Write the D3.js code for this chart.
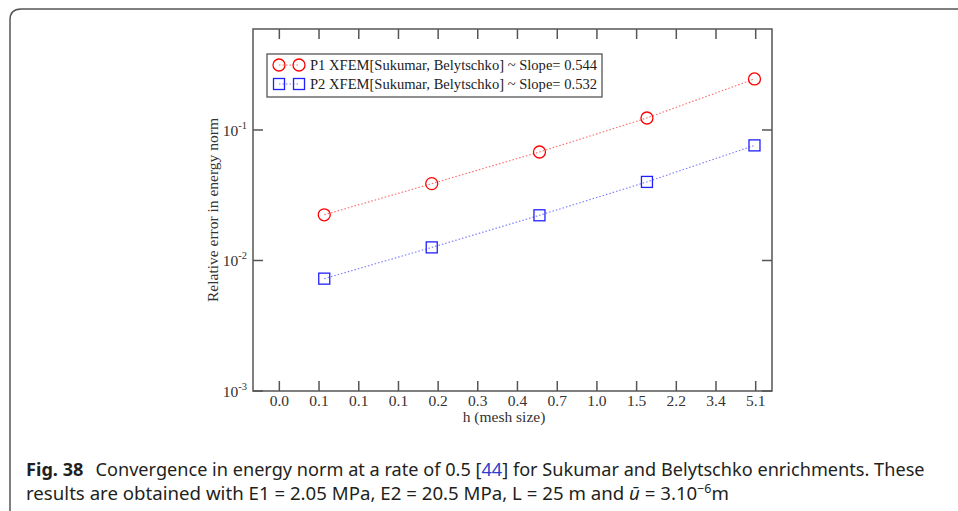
<!DOCTYPE html>
<html>
<head>
<meta charset="utf-8">
<script src="https://cdn.jsdelivr.net/npm/d3@7"></script>
<style>
  body { margin: 0; background: #fff; }
  svg { display: block; }
</style>
</head>
<body>
<div id="chart"></div>
<script>
var w = 958;
var h = 511;

// mesh size h and relative error values
var meshSize = [0.0617, 0.185, 0.556, 1.667, 5.0];
var errP1 = [0.0224, 0.0388, 0.0678, 0.1236, 0.246];
var errP2 = [0.00726, 0.0126, 0.0222, 0.040, 0.0762];

var xTickValues = [0.039, 0.0585, 0.0878, 0.1317, 0.1975, 0.296, 0.444, 0.667, 1.0, 1.5, 2.25, 3.375, 5.0625];
var xTickLabels = ["0.0","0.1","0.1","0.1","0.2","0.3","0.4","0.7","1.0","1.5","2.2","3.4","5.1"];
var yTickValues = [0.001, 0.01, 0.1];
var yTickExp = ["-3", "-2", "-1"];

var legendNames = [
  "P1 XFEM[Sukumar, Belytschko] ~ Slope= 0.544",
  "P2 XFEM[Sukumar, Belytschko] ~ Slope= 0.532"
];

var pLeft = 253, pRight = 772, pTop = 29, pBottom = 391;
var serif = "'Liberation Serif', 'Times New Roman', serif";

var svg = d3.select("#chart").append("svg")
  .attr("width", w)
  .attr("height", h);

// page frame (rounded top-left corner)
svg.append("path")
  .attr("d", "M10,520 L10,20 Q10,9 21,9 L965,9")
  .attr("fill", "none")
  .attr("stroke", "#555")
  .attr("stroke-width", 1.5);

var xscale = d3.scaleLog()
  .domain([0.0298, 5.98])
  .range([pLeft, pRight]);

var yscale = d3.scaleLog()
  .domain([0.001, 0.594])
  .range([pBottom, pTop]);

var g = svg.append("g");

// plot box
g.append("rect")
  .attr("x", pLeft).attr("y", pTop)
  .attr("width", pRight - pLeft).attr("height", pBottom - pTop)
  .attr("fill", "none")
  .attr("stroke", "#555")
  .attr("stroke-width", 1.5);

// inward ticks, bottom and top
var tickLen = 10;
xTickValues.forEach(function(v, i){
  var x = xscale(v);
  g.append("line").attr("x1", x).attr("x2", x).attr("y1", pBottom).attr("y2", pBottom - tickLen)
    .attr("stroke", "#555").attr("stroke-width", 1.5);
  g.append("line").attr("x1", x).attr("x2", x).attr("y1", pTop).attr("y2", pTop + tickLen)
    .attr("stroke", "#555").attr("stroke-width", 1.5);
  g.append("text")
    .attr("x", x).attr("y", pBottom + 15)
    .attr("text-anchor", "middle")
    .style("font-family", serif).style("font-size", "15.5px").style("fill", "#333")
    .text(xTickLabels[i]);
});

// inward ticks, left and right
yTickValues.forEach(function(v, i){
  var y = yscale(v);
  g.append("line").attr("x1", pLeft).attr("x2", pLeft + tickLen).attr("y1", y).attr("y2", y)
    .attr("stroke", "#555").attr("stroke-width", 1.5);
  g.append("line").attr("x1", pRight).attr("x2", pRight - tickLen).attr("y1", y).attr("y2", y)
    .attr("stroke", "#555").attr("stroke-width", 1.5);
  var t = g.append("text")
    .attr("x", pLeft - 6).attr("y", y + 6)
    .attr("text-anchor", "end")
    .style("font-family", serif).style("font-size", "15.5px").style("fill", "#333");
  t.append("tspan").text("10");
  t.append("tspan").attr("dy", -7).style("font-size", "10.5px").text(yTickExp[i]);
});

// axis titles
g.append("text")
  .attr("x", 504).attr("y", 422)
  .attr("text-anchor", "middle")
  .style("font-family", serif).style("font-size", "15.5px").style("fill", "#333")
  .text("h (mesh size)");

g.append("text")
  .attr("transform", "translate(218,210) rotate(-90)")
  .attr("text-anchor", "middle")
  .style("font-family", serif).style("font-size", "15.5px").style("fill", "#333")
  .text("Relative error in energy norm");

// series
var series = [
  {name: legendNames[0], vals: errP1, color: "#ff0000", shape: "circle"},
  {name: legendNames[1], vals: errP2, color: "#2020ff", shape: "square"}
];

var line = d3.line()
  .x(function(d){ return xscale(d[0]); })
  .y(function(d){ return yscale(d[1]); });

function marker(sel, shape, color, x, y){
  if(shape == "circle"){
    sel.append("circle").attr("cx", x).attr("cy", y).attr("r", 6)
      .attr("fill", "none").attr("stroke", color).attr("stroke-width", 1.3);
  }else{
    sel.append("rect").attr("x", x - 5.5).attr("y", y - 5.5).attr("width", 11).attr("height", 11)
      .attr("fill", "none").attr("stroke", color).attr("stroke-width", 1.3);
  }
}

series.forEach(function(s){
  var pts = meshSize.map(function(m, i){ return [m, s.vals[i]]; });
  g.append("path")
    .attr("d", line(pts))
    .attr("fill", "none")
    .attr("stroke", s.color)
    .attr("stroke-opacity", 0.6)
    .attr("stroke-width", 1.1)
    .attr("stroke-dasharray", "1.5,2");
  pts.forEach(function(p){
    marker(g, s.shape, s.color, xscale(p[0]), yscale(p[1]));
  });
});

// legend
var lg = svg.append("g");
lg.append("rect")
  .attr("x", 267).attr("y", 54).attr("width", 335).attr("height", 43)
  .attr("fill", "#fff")
  .attr("stroke", "#555")
  .attr("stroke-width", 1.3);

series.forEach(function(s, i){
  var cy = 65 + i * 19;
  lg.append("line").attr("x1", 279).attr("x2", 299).attr("y1", cy).attr("y2", cy)
    .attr("stroke", s.color).attr("stroke-opacity", 0.6)
    .attr("stroke-width", 1.1).attr("stroke-dasharray", "1.5,2");
  marker(lg, s.shape, s.color, 279, cy);
  marker(lg, s.shape, s.color, 299, cy);
  lg.append("text")
    .attr("x", 310).attr("y", cy + 5)
    .attr("textLength", 287).attr("lengthAdjust", "spacingAndGlyphs")
    .style("font-family", serif).style("font-size", "15px").style("fill", "#222")
    .text(s.name);
});

// caption
var sans = "'Noto Sans', 'Open Sans', sans-serif";
function fitLine(t, x0, targetW){
  var bw = t.node().getBBox().width;
  var k = targetW / bw;
  t.attr("transform", "translate(" + x0 + "," + t.attr("data-y") + ") scale(" + k + ",1)");
}

var c1 = svg.append("text")
  .attr("data-y", 476)
  .style("font-family", sans).style("font-size", "18px").style("fill", "#231f20");
c1.append("tspan").style("font-weight", "bold").text("Fig. 38");
c1.append("tspan").attr("dx", 12).text("Convergence in energy norm at a rate of 0.5 [");
c1.append("tspan").style("fill", "#2b3fc8").text("44");
c1.append("tspan").text("] for Sukumar and Belytschko enrichments. These");
fitLine(c1, 26, 899);

var c2 = svg.append("text")
  .attr("data-y", 499.5)
  .style("font-family", sans).style("font-size", "18px").style("fill", "#231f20");
c2.append("tspan").text("results are obtained with E1 = 2.05 MPa, E2 = 20.5 MPa, L = 25 m and ");
c2.append("tspan").style("font-style", "italic").text("\u016B");
c2.append("tspan").text(" = 3.10");
c2.append("tspan").attr("dy", -7).style("font-size", "12px").text("\u22126");
c2.append("tspan").attr("dy", 7).text("m");
fitLine(c2, 26, 703);
</script>
</body>
</html>
